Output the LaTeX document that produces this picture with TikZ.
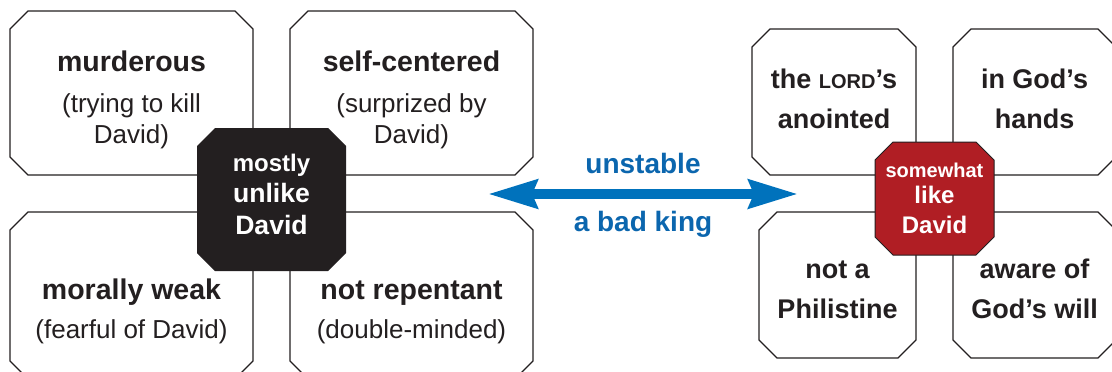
\documentclass[tikz,border=0pt]{standalone}
\usepackage{fontspec}
\setmainfont{Liberation Sans}
\usetikzlibrary{arrows.meta}
\definecolor{ink}{HTML}{231F20}
\definecolor{kingblue}{HTML}{0072BC}
\definecolor{labblue}{HTML}{0B66AE}
\definecolor{davidred}{HTML}{B01E24}
% chamfered box: style, x1, y1, x2, y2 (chamfer 18)
\newcommand\chbox[5]{%
  \path[#1] ({#2+18},#3) -- ({#4-18},#3) -- (#4,{#3+18}) -- (#4,{#5-18})
    -- ({#4-18},#5) -- ({#2+18},#5) -- (#2,{#5-18}) -- (#2,{#3+18}) -- cycle;}
\begin{document}
\begin{tikzpicture}[x=1pt,y=-1pt,
  boxline/.style={draw=ink, line width=1.2pt, fill=white},
  blackoct/.style={fill=ink},
  redoct/.style={fill=davidred, draw=ink, line width=1pt},
  txt/.style={anchor=base, inner sep=0pt, text=ink},
  lbold/.style={txt, font=\fontsize{28.5}{30}\selectfont\bfseries},
  lreg/.style={txt, font=\fontsize{26}{28}\selectfont},
  rbold/.style={txt, font=\fontsize{27}{29}\selectfont\bfseries},
  octbig/.style={txt, text=white, font=\fontsize{26.6}{28}\selectfont\bfseries},
  octsmall/.style={txt, text=white, font=\fontsize{24}{26}\selectfont\bfseries},
  redbig/.style={txt, text=white, font=\fontsize{24}{26}\selectfont\bfseries},
  redsmall/.style={txt, text=white, font=\fontsize{20}{22}\selectfont\bfseries},
  arrlab/.style={txt, text=labblue, font=\fontsize{28}{30}\selectfont\bfseries},
  bigarrow/.style={kingblue, line width=10pt,
    {Stealth[length=49pt,width=28pt,inset=5pt]}-{Stealth[length=49pt,width=28pt,inset=5pt]}}
]
\useasboundingbox (0,0) rectangle (1112,372);
\clip (0,0) rectangle (1112,372);

% ---------- left group ----------
\chbox{boxline}{10}{11}{253}{175}
\chbox{boxline}{290}{11}{533}{175}
\chbox{boxline}{10}{212}{253}{379}
\chbox{boxline}{290}{212}{533}{379}
\chbox{blackoct}{197}{128}{346}{271}

\node[lbold] (mur)  at (131.5,71)  {murderous};
\node[lreg]  (mur2) at (131.5,112) {(trying to kill};
\node[lreg]  (mur3) at (131.5,143) {David)};

\node[lbold] (sel)  at (411.5,71)  {self-centered};
\node[lreg]  (sel2) at (411.5,112) {(surprized by};
\node[lreg]  (sel3) at (411.5,143) {David)};

\node[lbold] (mor)  at (131.5,299) {morally weak};
\node[lreg]  (mor2) at (131.5,338) {(fearful of David)};

\node[lbold] (rep)  at (411.5,299) {not repentant};
\node[lreg]  (rep2) at (411.5,338) {(double-minded)};

\node[octsmall] (un1) at (271.5,171) {mostly};
\node[octbig]   (un2) at (271.5,202) {unlike};
\node[octbig]   (un3) at (271.5,234) {David};

% ---------- arrow ----------
\coordinate (aL) at (488,194);
\coordinate (aR) at (798,194);
\draw[bigarrow] (aL) -- (aR);
\node[arrlab] (uns) at (643,173) {unstable};
\node[arrlab] (bad) at (643,231) {a bad king};

% ---------- right group ----------
\chbox{boxline}{752}{29}{916}{175}
\chbox{boxline}{953}{29}{1116}{175}
\chbox{boxline}{759}{212}{916}{358}
\chbox{boxline}{953}{212}{1116}{358}
\chbox{redoct}{875}{142}{994}{255}

\node[rbold] (lo1) at (834,88)  {the {\fontsize{20}{22}\selectfont LORD}’s};
\node[rbold] (lo2) at (834,128) {anointed};
\node[rbold] (ha1) at (1034.5,88)  {in God’s};
\node[rbold] (ha2) at (1034.5,128) {hands};
\node[rbold] (ph1) at (837.5,278) {not a};
\node[rbold] (ph2) at (837.5,318) {Philistine};
\node[rbold] (aw1) at (1034.5,278) {aware of};
\node[rbold] (aw2) at (1034.5,318) {God’s will};

\node[redsmall] (li1) at (934.5,177) {somewhat};
\node[redbig]   (li2) at (934.5,203) {like};
\node[redbig]   (li3) at (934.5,233) {David};
\end{tikzpicture}
\end{document}
